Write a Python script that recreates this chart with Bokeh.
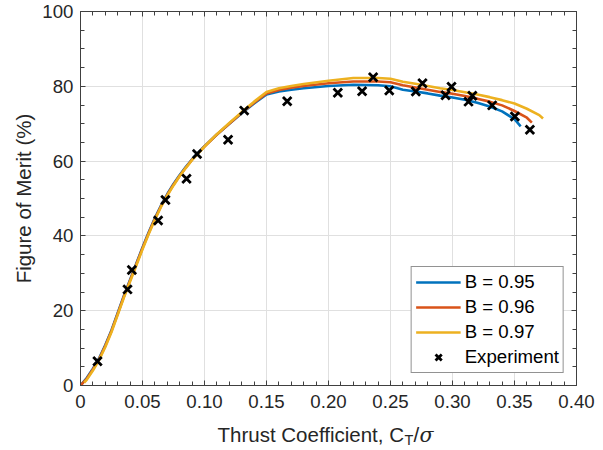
from bokeh.plotting import figure
from bokeh.models import (Range1d, LinearAxis, FixedTicker, Legend, LegendItem, Label)
from bokeh.embed import file_html
from bokeh.resources import INLINE

# ---------------- data ----------------
ct_095 = [0.0, 0.005, 0.010, 0.015, 0.020, 0.025, 0.030, 0.035, 0.040, 0.045, 0.050, 0.055,
          0.060, 0.065, 0.070, 0.075, 0.080, 0.085, 0.090, 0.095, 0.100, 0.110, 0.120, 0.130,
          0.140, 0.150, 0.160, 0.170, 0.180, 0.200, 0.220, 0.240, 0.250, 0.260, 0.270, 0.280,
          0.290, 0.300, 0.310, 0.320, 0.330, 0.340, 0.350, 0.355]
fm_095 = [0.0, 2.0, 4.5, 7.3, 10.8, 14.8, 19.4, 24.0, 28.3, 32.6, 36.9, 41.0,
          44.8, 48.2, 51.2, 53.9, 56.3, 58.5, 60.5, 62.3, 64.0, 67.1, 70.0, 72.8,
          75.4, 77.8, 78.6, 79.1, 79.5, 80.1, 80.4, 80.3, 80.0, 79.1, 78.6, 78.1,
          77.5, 77.0, 76.4, 75.6, 74.6, 73.3, 71.2, 69.3]

ct_096 = [0.0, 0.005, 0.010, 0.015, 0.020, 0.025, 0.030, 0.035, 0.040, 0.045, 0.050, 0.055,
          0.060, 0.065, 0.070, 0.075, 0.080, 0.085, 0.090, 0.095, 0.100, 0.110, 0.120, 0.130,
          0.140, 0.150, 0.160, 0.170, 0.180, 0.200, 0.220, 0.240, 0.250, 0.260, 0.270, 0.280,
          0.290, 0.300, 0.310, 0.320, 0.330, 0.340, 0.350, 0.360, 0.364]
fm_096 = [0.0, 1.8, 4.3, 7.1, 10.6, 14.6, 19.2, 23.8, 28.1, 32.4, 36.7, 40.8,
          44.6, 48.0, 51.0, 53.7, 56.1, 58.3, 60.4, 62.2, 63.9, 67.1, 70.0, 72.9,
          75.6, 78.1, 79.0, 79.6, 80.1, 80.8, 81.3, 81.3, 81.1, 80.3, 79.7, 79.1,
          78.5, 78.0, 77.4, 76.7, 75.9, 74.9, 73.4, 71.6, 70.3]

ct_097 = [0.003, 0.005, 0.010, 0.015, 0.020, 0.025, 0.030, 0.035, 0.040, 0.045, 0.050, 0.055,
          0.060, 0.065, 0.070, 0.075, 0.080, 0.085, 0.090, 0.095, 0.100, 0.110, 0.120, 0.130,
          0.140, 0.150, 0.160, 0.170, 0.180, 0.200, 0.220, 0.240, 0.250, 0.260, 0.270, 0.280,
          0.290, 0.300, 0.310, 0.320, 0.330, 0.340, 0.350, 0.360, 0.370, 0.373]
fm_097 = [0.8, 1.5, 4.0, 6.8, 10.3, 14.3, 18.9, 23.5, 27.8, 32.1, 36.4, 40.5,
          44.3, 47.8, 50.8, 53.5, 56.0, 58.2, 60.3, 62.1, 63.9, 67.2, 70.2, 73.1,
          75.9, 78.5, 79.5, 80.1, 80.6, 81.5, 82.2, 82.2, 82.0, 81.2, 80.7, 80.1,
          79.5, 79.0, 78.4, 77.8, 77.1, 76.3, 75.4, 74.0, 72.3, 71.4]

exp_ct = [0.0137, 0.0379, 0.0414, 0.0626, 0.0685, 0.0855, 0.094, 0.119, 0.132, 0.1667,
          0.2075, 0.2271, 0.236, 0.249, 0.2704, 0.2758, 0.2944, 0.2992, 0.3129, 0.316,
          0.332, 0.3503, 0.3624]
exp_fm = [6.5, 25.7, 30.9, 44.1, 49.6, 55.3, 61.9, 65.7, 73.5, 76.0,
          78.3, 78.7, 82.4, 78.9, 78.6, 80.8, 77.6, 79.9, 75.9, 77.5,
          74.9, 71.9, 68.4]

x_ticks = [0.0, 0.05, 0.10, 0.15, 0.20, 0.25, 0.30, 0.35, 0.40]
x_tick_labels = ["0", "0.05", "0.10", "0.15", "0.20", "0.25", "0.30", "0.35", "0.40"]
y_ticks = [0, 20, 40, 60, 80, 100]
series_labels = ["B = 0.95", "B = 0.96", "B = 0.97", "Experiment"]
series_colors = ["#0072BD", "#D95319", "#EDB120"]

# ---------------- style ----------------
FONT = "Liberation Sans"
TXT = "#262626"
TICK_FS = "18.67px"
LABEL_FS = "20.5px"

p = figure(width=603, height=450, output_backend="svg", toolbar_location=None,
           x_range=Range1d(0, 0.4), y_range=Range1d(0, 100),
           min_border_left=80, min_border_right=27, min_border_top=11, min_border_bottom=65)
p.background_fill_color = "white"
p.border_fill_color = "white"
p.outline_line_color = "#404040"
p.outline_line_width = 1

def style_axis(ax, ticks, minor, show_labels):
    ax.ticker = FixedTicker(ticks=ticks, minor_ticks=minor)
    ax.axis_line_color = "#404040"
    ax.major_tick_line_color = "#404040"
    ax.minor_tick_line_color = "#404040"
    ax.major_tick_in = 5
    ax.major_tick_out = 0
    ax.minor_tick_in = 4
    ax.minor_tick_out = 0
    ax.major_label_text_font = FONT
    ax.major_label_text_color = TXT
    ax.major_label_text_font_size = TICK_FS
    if not show_labels:
        ax.major_label_text_font_size = "2px"
        ax.major_label_text_alpha = 0
        ax.major_label_standoff = 0

xminor = [round(i * 0.01, 3) for i in range(0, 41) if i % 5 != 0]
yminor = [i * 5 for i in range(0, 21) if i % 4 != 0]

xa = p.xaxis[0]
style_axis(xa, x_ticks, xminor, True)
xa.major_label_overrides = {t: l for t, l in zip(x_ticks, x_tick_labels)}
xa.major_label_standoff = 9

ya = p.yaxis[0]
style_axis(ya, y_ticks, yminor, True)
ya.major_label_standoff = 7
ya.axis_label = "Figure of Merit (%)"
ya.axis_label_text_font = FONT
ya.axis_label_text_font_size = LABEL_FS
ya.axis_label_text_font_style = "normal"
ya.axis_label_text_color = TXT
ya.axis_label_standoff = 4

top = LinearAxis()
style_axis(top, x_ticks, xminor, False)
top.major_label_overrides = {t: "" for t in x_ticks}
p.add_layout(top, "above")
right = LinearAxis()
style_axis(right, y_ticks, yminor, False)
right.major_label_overrides = {t: "" for t in y_ticks}
p.add_layout(right, "right")

p.xgrid.ticker = FixedTicker(ticks=x_ticks)
p.ygrid.ticker = FixedTicker(ticks=y_ticks)
p.xgrid.grid_line_color = "#e0e0e0"
p.ygrid.grid_line_color = "#e0e0e0"

r1 = p.line(ct_095, fm_095, line_color=series_colors[0], line_width=2.6)
r2 = p.line(ct_096, fm_096, line_color=series_colors[1], line_width=2.6)
r3 = p.line(ct_097, fm_097, line_color=series_colors[2], line_width=2.6)
r4 = p.scatter(exp_ct, exp_fm, marker="x", size=12, line_color="black", line_width=2.8)

legend = Legend(items=[LegendItem(label=series_labels[0], renderers=[r1]),
                       LegendItem(label=series_labels[1], renderers=[r2]),
                       LegendItem(label=series_labels[2], renderers=[r3]),
                       LegendItem(label=series_labels[3], renderers=[r4])],
                location="bottom_right")
legend.margin = 12
legend.padding = 4
legend.spacing = 3
legend.glyph_width = 45
legend.glyph_height = 22
legend.label_height = 22
legend.label_standoff = 4
legend.label_text_font = FONT
legend.label_text_font_size = TICK_FS
legend.label_text_color = "black"
legend.border_line_color = "#262626"
legend.border_line_width = 1
legend.background_fill_color = "white"
legend.background_fill_alpha = 1
p.add_layout(legend)

# x-axis label with subscript: "Thrust Coefficient, C_T/σ".
# Pieces are spread over side panels so that each panel stays within its border.
px_x = 1240.0   # pixels per x unit
px_y = 3.74     # pixels per y unit
start = 217
base = 49
for txt, dx, dy, fs, fnt, sty, side in [
        ("Thrust Coefficient, C", 0, 0, LABEL_FS, FONT, "normal", "below"),
        ("T", 187, 5, "14.5px", FONT, "normal", "left"),
        ("/", 196, 0, LABEL_FS, FONT, "normal", "right"),
        ("σ", 202, 0, LABEL_FS, "DejaVu Serif", "italic", "right")]:
    p.add_layout(Label(x=(start + dx - 80) / px_x, y=-(base + dy) / px_y, text=txt,
                       text_font=fnt, text_font_size=fs, text_color=TXT,
                       text_font_style=sty,
                       text_baseline="alphabetic", text_align="left"), side)

open("out.html", "w").write(file_html(p, INLINE))
